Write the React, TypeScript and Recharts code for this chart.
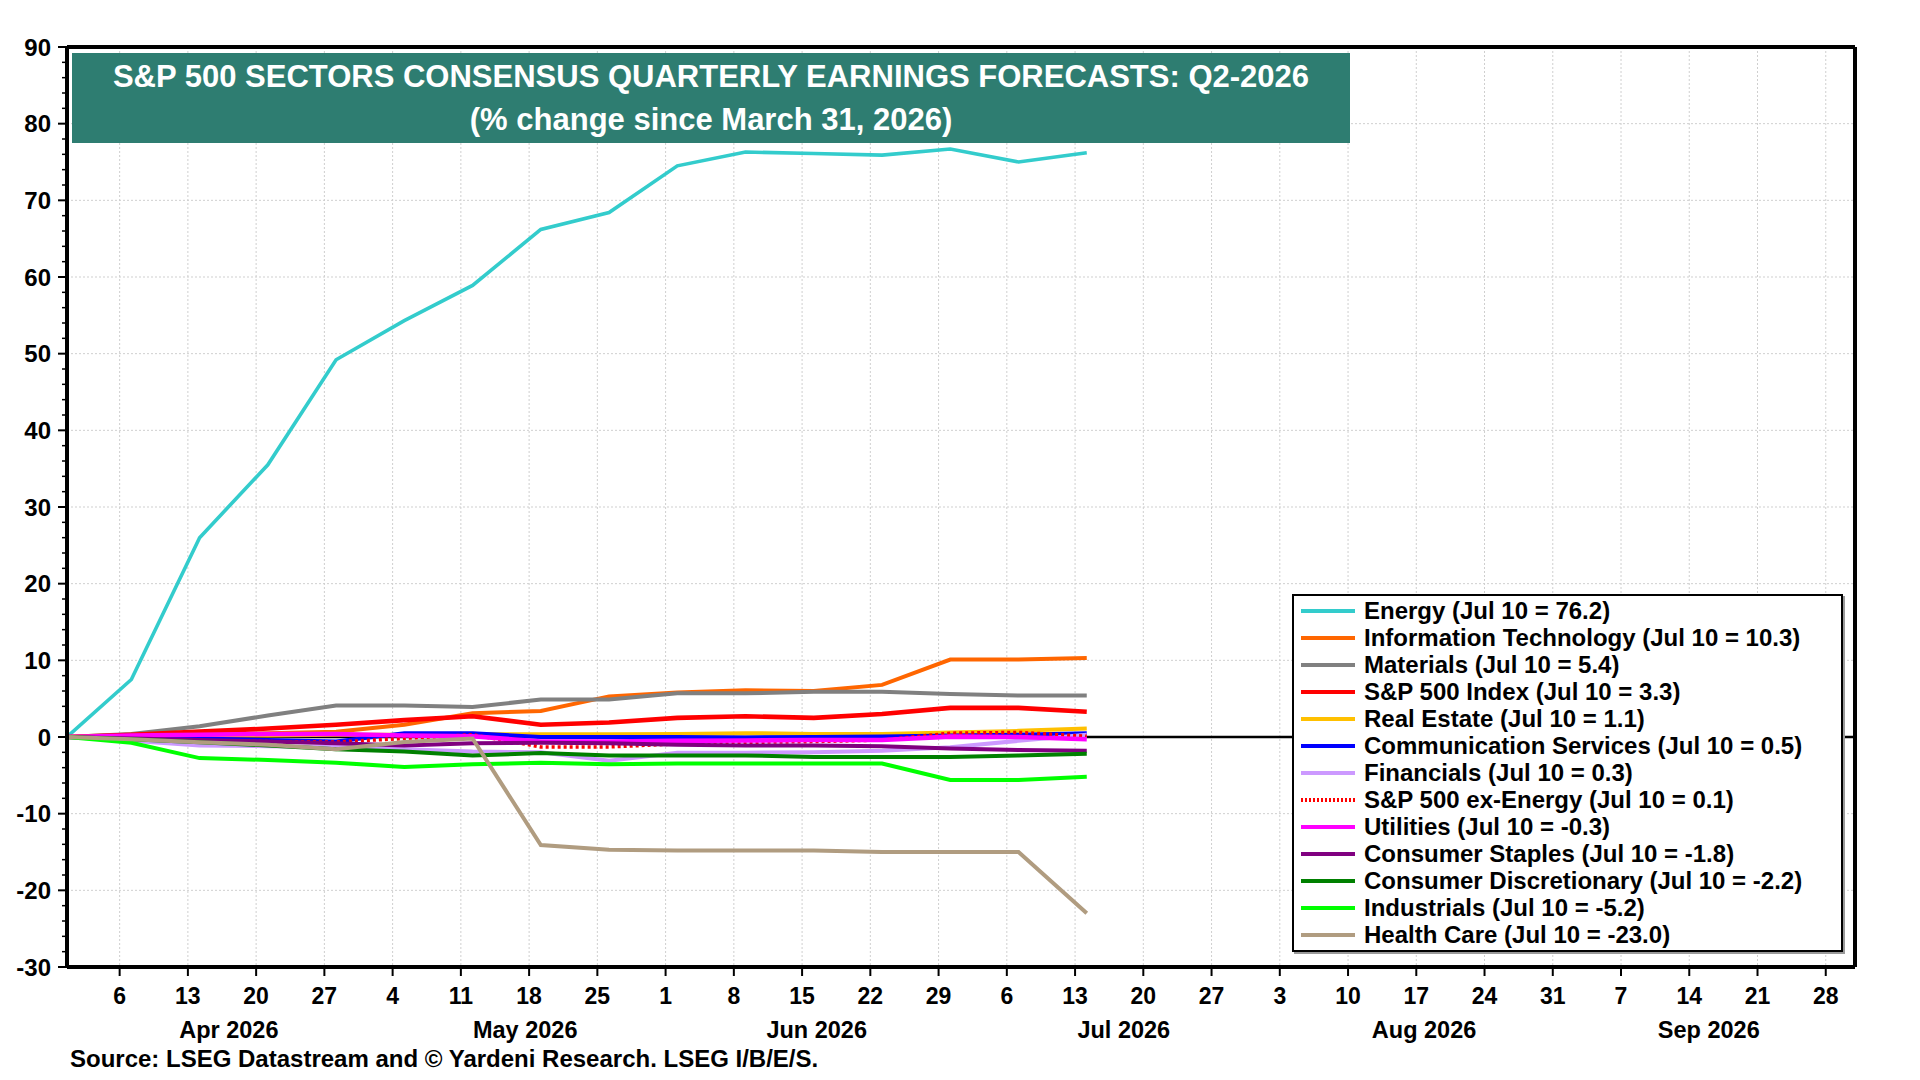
import React from 'react';
import { CartesianGrid, Line, LineChart, ReferenceLine, XAxis, YAxis } from 'recharts';

// x positions are days counted from Mar 31, 2026
const pointDays = [0.6, 7.2, 14.2, 21.2, 28.2, 35.2, 42.2, 49.2, 56.2, 63.2, 70.2, 77.2, 84.2, 91.2, 98.2, 105.2];

const energy = [0, 7.5, 26.0, 35.5, 49.2, 54.3, 58.9, 66.2, 68.4, 74.5, 76.3, 76.1, 75.9, 76.7, 75.0, 76.2];
const infoTech = [0, 0.1, 0.3, 0.5, 0.7, 1.6, 3.1, 3.4, 5.3, 5.8, 6.1, 6.0, 6.8, 10.1, 10.1, 10.3];
const materials = [0, 0.4, 1.4, 2.8, 4.1, 4.1, 3.9, 4.9, 4.9, 5.7, 5.7, 5.9, 5.9, 5.6, 5.4, 5.4];
const sp500 = [0, 0.3, 0.7, 1.1, 1.6, 2.2, 2.7, 1.6, 1.9, 2.5, 2.7, 2.5, 3.0, 3.8, 3.8, 3.3];
const realEstate = [0, 0.1, 0.2, 0.2, 0.3, 0.3, 0.35, 0.35, 0.35, 0.4, 0.5, 0.4, 0.4, 0.6, 0.8, 1.1];
const commServices = [0, -0.1, -0.2, -0.4, -0.6, 0.5, 0.5, 0.0, 0.0, 0.0, -0.05, 0.0, 0.05, 0.2, 0.3, 0.5];
const financials = [0, -0.5, -1.1, -1.2, -1.3, -1.6, -1.9, -2.0, -3.1, -2.05, -2.05, -2.0, -1.8, -1.35, -0.5, 0.3];
const exEnergy = [0, -0.15, -0.5, -0.6, -0.65, -0.2, 0.3, -1.3, -1.3, -0.9, -0.7, -0.6, -0.4, 0.5, 0.6, 0.1];
const utilities = [0, 0.2, 0.3, 0.4, 0.4, 0.2, 0.1, -0.6, -0.6, -0.5, -0.45, -0.4, -0.4, 0.05, 0.0, -0.3];
const staples = [0, -0.2, -0.4, -0.6, -0.8, -1.1, -0.8, -0.75, -0.8, -1.0, -1.1, -1.1, -1.2, -1.5, -1.7, -1.8];
const discretionary = [0, -0.3, -0.7, -1.1, -1.6, -1.9, -2.4, -2.1, -2.4, -2.4, -2.4, -2.6, -2.6, -2.6, -2.4, -2.2];
const industrials = [0, -0.75, -2.75, -3.0, -3.35, -3.9, -3.55, -3.35, -3.55, -3.45, -3.45, -3.45, -3.45, -5.6, -5.6, -5.2];
const healthCare = [0, -0.3, -0.7, -1.0, -1.6, -0.65, -0.2, -14.1, -14.7, -14.8, -14.8, -14.8, -15.0, -15.0, -15.0, -23.0];

// Mondays
const xTickDays = [6, 13, 20, 27, 34, 41, 48, 55, 62, 69, 76, 83, 90, 97, 104, 111, 118, 125, 132, 139, 146, 153, 160, 167, 174, 181];
const xTickLabels = ['6', '13', '20', '27', '4', '11', '18', '25', '1', '8', '15', '22', '29', '6', '13', '20', '27', '3', '10', '17', '24', '31', '7', '14', '21', '28'];
const monthDays = [17.2, 47.6, 77.5, 109, 139.8, 169];
const monthLabels = ['Apr 2026', 'May 2026', 'Jun 2026', 'Jul 2026', 'Aug 2026', 'Sep 2026'];
const yMajorTicks = [-30, -20, -10, 0, 10, 20, 30, 40, 50, 60, 70, 80, 90];

const series = [
  { key: 'energy', name: 'Energy (Jul 10 = 76.2)', color: '#33CCCC', values: energy, width: 3.6 },
  { key: 'infoTech', name: 'Information Technology (Jul 10 = 10.3)', color: '#FF6600', values: infoTech, width: 4 },
  { key: 'materials', name: 'Materials (Jul 10 = 5.4)', color: '#808080', values: materials, width: 4 },
  { key: 'sp500', name: 'S&P 500 Index (Jul 10 = 3.3)', color: '#FF0000', values: sp500, width: 4.6 },
  { key: 'realEstate', name: 'Real Estate (Jul 10 = 1.1)', color: '#FFC000', values: realEstate, width: 4 },
  { key: 'commServices', name: 'Communication Services (Jul 10 = 0.5)', color: '#0000FF', values: commServices, width: 4 },
  { key: 'financials', name: 'Financials (Jul 10 = 0.3)', color: '#CC99FF', values: financials, width: 4 },
  { key: 'exEnergy', name: 'S&P 500 ex-Energy (Jul 10 = 0.1)', color: '#FF0000', values: exEnergy, width: 3.5, dash: '3 3' },
  { key: 'utilities', name: 'Utilities (Jul 10 = -0.3)', color: '#FF00FF', values: utilities, width: 4.6 },
  { key: 'staples', name: 'Consumer Staples (Jul 10 = -1.8)', color: '#800080', values: staples, width: 4 },
  { key: 'discretionary', name: 'Consumer Discretionary (Jul 10 = -2.2)', color: '#008000', values: discretionary, width: 4 },
  { key: 'industrials', name: 'Industrials (Jul 10 = -5.2)', color: '#00FF00', values: industrials, width: 4 },
  { key: 'healthCare', name: 'Health Care (Jul 10 = -23.0)', color: '#B09C80', values: healthCare, width: 4 },
];

const data = pointDays.map((day, i) => {
  const row: Record<string, number> = { day };
  series.forEach((s) => { row[s.key] = s.values[i]; });
  return row;
});

const yTicks: number[] = [];
for (let v = -30; v <= 90; v += 2) yTicks.push(v);

const FONT = '"Liberation Sans", Arial, sans-serif';

const YTick = (side: 'left' | 'right') => (props: any) => {
  const { x, y, payload } = props;
  const v = payload.value as number;
  const major = yMajorTicks.includes(v);
  const dir = side === 'left' ? -1 : 1;
  return (
    <g>
      <line x1={x} x2={x + dir * (major ? 9 : 5)} y1={y} y2={y} stroke="#000" strokeWidth={major ? 2 : 1.5} />
      {major && (
        <text
          x={x + dir * 16}
          y={y}
          textAnchor={side === 'left' ? 'end' : 'start'}
          dominantBaseline="central"
          fontFamily={FONT}
          fontWeight="bold"
          fontSize={24}
          fill="#000"
        >
          {v}
        </text>
      )}
    </g>
  );
};

const DayTick = (props: any) => {
  const { x, y, payload } = props;
  const idx = xTickDays.indexOf(payload.value);
  return (
    <g>
      <line x1={x} x2={x} y1={y} y2={y + 9} stroke="#000" strokeWidth={2} />
      <text x={x} y={y + 29} textAnchor="middle" dominantBaseline="central" fontFamily={FONT} fontWeight="bold" fontSize={23} fill="#000">
        {xTickLabels[idx]}
      </text>
    </g>
  );
};

const MonthTick = (props: any) => {
  const { x, y, payload } = props;
  const idx = monthDays.indexOf(payload.value);
  return (
    <text x={x} y={y + 28} textAnchor="middle" dominantBaseline="central" fontFamily={FONT} fontWeight="bold" fontSize={23.5} fill="#000">
      {monthLabels[idx]}
    </text>
  );
};

const SectorLegend = () => (
  <div
    style={{
      position: 'absolute',
      left: 1292,
      top: 594,
      width: 551,
      height: 358,
      boxSizing: 'border-box',
      border: '2px solid #000',
      background: '#fff',
      padding: '1px 0 0 6px',
      fontFamily: FONT,
      fontWeight: 'bold',
      fontSize: 24,
      color: '#000',
      boxShadow: '2px 2px 0 #9a9a9a',
    }}
  >
    {series.map((s) => (
      <div key={s.key} style={{ display: 'flex', alignItems: 'center', height: 27, whiteSpace: 'nowrap' }}>
        <svg width={56} height={10} style={{ marginRight: 8, flex: 'none' }}>
          <line x1={1} x2={55} y1={5} y2={5} stroke={s.color} strokeWidth={4} strokeDasharray={s.dash ? '2 2' : undefined} />
        </svg>
        <span>{s.name}</span>
      </div>
    ))}
  </div>
);

export default function App() {
  return (
    <div style={{ position: 'absolute', left: 0, top: 0, width: 1920, height: 1080, background: '#fff' }}>
      <LineChart width={1920} height={1080} data={data} margin={{ top: 47, right: 5, left: 7, bottom: 38 }}>
        <CartesianGrid
          xAxisId="day"
          yAxisId="left"
          horizontalValues={yMajorTicks}
          verticalValues={xTickDays}
          stroke="#CFCFCF"
          strokeDasharray="2 2"
        />
        <XAxis
          xAxisId="day"
          dataKey="day"
          type="number"
          domain={[0.6, 184]}
          allowDataOverflow
          ticks={xTickDays}
          interval={0}
          tick={DayTick}
          tickSize={0}
          tickMargin={0}
          tickLine={false}
          height={35}
          axisLine={{ stroke: '#000', strokeWidth: 4 }}
        />
        <XAxis
          xAxisId="month"
          dataKey="day"
          type="number"
          domain={[0.6, 184]}
          allowDataOverflow
          ticks={monthDays}
          interval={0}
          tick={MonthTick}
          tickSize={0}
          tickMargin={0}
          tickLine={false}
          height={40}
          axisLine={false}
        />
        <YAxis
          yAxisId="left"
          orientation="left"
          type="number"
          domain={[-30, 90]}
          ticks={yTicks}
          interval={0}
          tick={YTick('left')}
          tickSize={0}
          tickMargin={0}
          tickLine={false}
          width={60}
          axisLine={{ stroke: '#000', strokeWidth: 4 }}
        />
        <YAxis
          yAxisId="right"
          orientation="right"
          type="number"
          domain={[-30, 90]}
          ticks={yTicks}
          interval={0}
          tick={YTick('right')}
          tickSize={0}
          tickMargin={0}
          tickLine={false}
          width={60}
          axisLine={{ stroke: '#000', strokeWidth: 4 }}
        />
        <ReferenceLine xAxisId="day" yAxisId="left" y={0} stroke="#000" strokeWidth={2.5} />
        <ReferenceLine xAxisId="day" yAxisId="left" y={90} stroke="#000" strokeWidth={4} />
        {series.map((s) => (
          <Line
            key={s.key}
            xAxisId="day"
            yAxisId="left"
            type="linear"
            dataKey={s.key}
            name={s.name}
            stroke={s.color}
            strokeWidth={s.width}
            strokeDasharray={s.dash}
            dot={false}
            activeDot={false}
            isAnimationActive={false}
          />
        ))}
      </LineChart>
      <div
        style={{
          position: 'absolute',
          left: 72,
          top: 53,
          width: 1278,
          height: 90,
          background: '#2E7D71',
          color: '#fff',
          fontFamily: FONT,
          fontWeight: 'bold',
          fontSize: 31,
          textAlign: 'center',
          lineHeight: '43px',
          paddingTop: 2,
          boxSizing: 'border-box',
        }}
      >
        <div>S&amp;P 500 SECTORS CONSENSUS QUARTERLY EARNINGS FORECASTS: Q2-2026</div>
        <div>(% change since March 31, 2026)</div>
      </div>
      <SectorLegend />
      <div
        style={{
          position: 'absolute',
          left: 70,
          top: 1045,
          fontFamily: FONT,
          fontWeight: 'bold',
          fontSize: 24,
          color: '#000',
          whiteSpace: 'nowrap',
        }}
      >
        Source: LSEG Datastream and © Yardeni Research. LSEG I/B/E/S.
      </div>
    </div>
  );
}
